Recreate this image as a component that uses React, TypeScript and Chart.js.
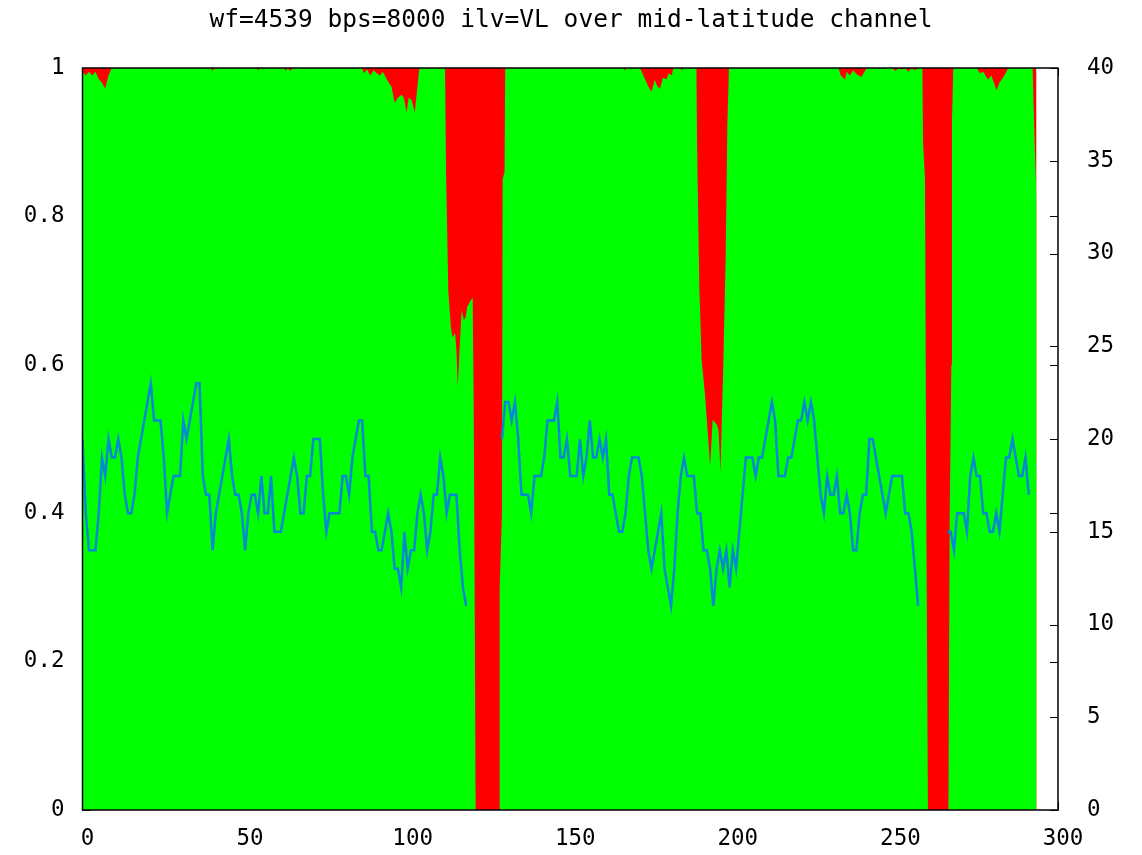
import React, { useEffect, useRef } from "react";
import { Chart, registerables } from "chart.js";

Chart.register(...registerables);

const TITLE = "wf=4539 bps=8000 ilv=VL over mid-latitude channel";
const X_TICKS = [0, 50, 100, 150, 200, 250, 300];
const Y_TICKS = [0, 0.2, 0.4, 0.6, 0.8, 1];
const Y2_TICKS = [0, 5, 10, 15, 20, 25, 30, 35, 40];

// blue series (right axis), index = x, null = no data
const blueValues: (number | null)[] = [
  20, 16, 14, 14, 14, 16, 19, 18, 20, 19,
  19, 20, 19, 17, 16, 16, 17, 19, 20, 21,
  22, 23, 21, 21, 21, 19, 16, 17, 18, 18,
  18, 21, 20, 21, 22, 23, 23, 18, 17, 17,
  14, 16, 17, 18, 19, 20, 18, 17, 17, 16,
  14, 16, 17, 17, 16, 18, 16, 16, 18, 15,
  15, 15, 16, 17, 18, 19, 18, 16, 16, 18,
  18, 20, 20, 20, 17, 15, 16, 16, 16, 16,
  18, 18, 17, 19, 20, 21, 21, 18, 18, 15,
  15, 14, 14, 15, 16, 15, 13, 13, 12, 15,
  13, 14, 14, 16, 17, 16, 14, 15, 17, 17,
  19, 18, 16, 17, 17, 17, 14, 12, 11, null,
  null, null, null, null, null, null, null, null, null, 20,
  22, 22, 21, 22, 20, 17, 17, 17, 16, 18,
  18, 18, 19, 21, 21, 21, 22, 19, 19, 20,
  18, 18, 18, 20, 18, 19, 21, 19, 19, 20,
  19, 20, 17, 17, 16, 15, 15, 16, 18, 19,
  19, 19, 18, 16, 14, 13, 14, 15, 16, 13,
  12, 11, 13, 16, 18, 19, 18, 18, 18, 16,
  16, 14, 14, 13, 11, 13, 14, 13, 14, 12,
  14, 13, 15, 17, 19, 19, 19, 18, 19, 19,
  20, 21, 22, 21, 18, 18, 18, 19, 19, 20,
  21, 21, 22, 21, 22, 21, 19, 17, 16, 18,
  17, 17, 18, 16, 16, 17, 16, 14, 14, 16,
  17, 17, 20, 20, 19, 18, 17, 16, 17, 18,
  18, 18, 18, 16, 16, 15, 13, 11, null, null,
  null, null, null, null, null, null, 15, 15, 14, 16,
  16, 16, 15, 18, 19, 18, 18, 16, 16, 15,
  15, 16, 15, 17, 19, 19, 20, 19, 18, 18,
  19, 17,
];

// green fraction (left axis), breakpoints
const greenX = [
  0, 1, 2, 3, 4, 5, 6, 7, 8, 9,
  39.5, 40, 40.5,
  53.5, 54, 54.5,
  62, 62.5, 63, 64, 64.5,
  86, 86.5, 87.5, 88.5, 89.5, 90.5, 91.5, 92.3,
  93, 93.6, 95, 96, 97, 98.2, 98.8, 99.7, 100.3, 101.2, 102.2, 103, 103.6,
  111.5, 111.8, 112.5, 113.3, 113.8, 114.6, 115.0, 115.4, 115.9, 116.6, 117.3, 117.9, 118.3, 119.4, 120.0, 120.3, 120.6, 120.9,
  128.1, 128.3, 129.0, 129.2, 129.8, 130.0,
  166.5, 166.8, 167.1,
  171.4, 172, 173, 174, 175, 176, 176.8, 177.6, 178.5, 179.6, 180.3, 181.2, 181.7,
  184, 184.3, 184.6,
  188.8, 189.0, 189.7, 190.4, 191.4, 192.4, 193.0, 193.8, 195.0, 195.6, 196.2, 197.1, 197.8, 198.3, 198.8,
  232.5, 233.2, 234.5, 235, 236, 237, 238, 239.5, 240.5, 241.2,
  249, 250, 251, 252, 253, 254, 255, 256, 257,
  258.3, 258.5, 259.1, 259.5, 260.0, 266.3, 266.7, 267.2, 267.4, 267.8,
  275, 276, 277, 278.5, 279.5, 281.1, 282, 283.5, 284.7,
  292.2, 292.5, 293.2, 293.4,
];
const greenY = [
  0.995, 0.99, 0.995, 0.99, 0.995, 0.985, 0.98, 0.972, 0.99, 1,
  1, 0.996, 1,
  1, 0.997, 1,
  1, 0.996, 1, 0.996, 1,
  1, 0.993, 0.998, 0.99, 0.997, 0.993, 0.99, 0.995,
  0.99, 0.984, 0.975, 0.953, 0.96, 0.964, 0.96, 0.94, 0.96, 0.957, 0.94, 0.975, 1,
  1, 0.86, 0.7, 0.65, 0.637, 0.643, 0.62, 0.57, 0.616, 0.674, 0.66, 0.665, 0.678, 0.687, 0.69, 0.55, 0.3, 0,
  0, 0.3, 0.4, 0.85, 0.86, 1,
  1, 0.996, 1,
  1, 0.995, 0.985, 0.975, 0.968, 0.984, 0.975, 0.972, 0.987, 0.985, 0.993, 0.99, 1,
  1, 0.996, 1,
  1, 0.9, 0.705, 0.606, 0.562, 0.503, 0.463, 0.526, 0.52, 0.512, 0.456, 0.606, 0.746, 0.921, 1,
  1, 0.99, 0.984, 0.995, 0.99, 0.997, 0.992, 0.988, 0.995, 1,
  1, 0.996, 1, 0.998, 1, 0.995, 1, 0.997, 1,
  1, 0.9, 0.85, 0.4, 0, 0, 0.4, 0.6, 0.93, 1,
  1, 0.993, 0.995, 0.984, 0.99, 0.97, 0.98, 0.99, 1,
  1, 0.95, 0.85, 0.818,
];

// red background band (left axis): frames observed
const redX = [0, 293.4];
const redY = [1, 1];

const FONT = "'DejaVu Sans Mono', monospace";

const framePlugin = {
  id: "gnuFrame",
  beforeDatasetsDraw(chart: any) {
    const { ctx, chartArea: a, scales } = chart;
    const L = 8;
    ctx.save();
    ctx.strokeStyle = "#000";
    ctx.lineWidth = 1;
    ctx.beginPath();
    for (const v of Y_TICKS) {
      const y = Math.round(scales.y.getPixelForValue(v)) + 0.5;
      ctx.moveTo(a.left, y);
      ctx.lineTo(a.left + L, y);
      ctx.moveTo(a.right, y);
      ctx.lineTo(a.right - L, y);
    }
    for (const v of Y2_TICKS) {
      const y = Math.round(scales.y2.getPixelForValue(v)) + 0.5;
      ctx.moveTo(a.right, y);
      ctx.lineTo(a.right - L, y);
    }
    for (const v of X_TICKS) {
      const x = Math.round(scales.x.getPixelForValue(v)) + 0.5;
      ctx.moveTo(x, a.bottom);
      ctx.lineTo(x, a.bottom - L);
      ctx.moveTo(x, a.top);
      ctx.lineTo(x, a.top + L);
    }
    ctx.stroke();
    ctx.restore();
  },
  afterDatasetsDraw(chart: any) {
    const { ctx, chartArea: a } = chart;
    ctx.save();
    ctx.strokeStyle = "#000";
    ctx.lineWidth = 1.5;
    ctx.strokeRect(a.left, a.top, a.right - a.left, a.bottom - a.top);
    ctx.restore();
  },
};

export default function App() {
  const ref = useRef<HTMLCanvasElement | null>(null);

  useEffect(() => {
    document.body.style.margin = "0";
    const canvas = ref.current;
    if (!canvas) return;

    const blueData = blueValues.map((v, i) => ({ x: i, y: v }));
    const greenData = greenX.map((x, i) => ({ x, y: greenY[i] }));
    const redData = redX.map((x, i) => ({ x, y: redY[i] }));

    const tickFont = { family: FONT, size: 22.5, weight: "normal" as const };

    const chart = new Chart(canvas, {
      type: "line",
      data: {
        datasets: [
          {
            label: "frames",
            data: blueData as any,
            yAxisID: "y2",
            borderColor: "rgb(0,138,212)",
            borderWidth: 2.5,
            pointRadius: 0,
            tension: 0,
            fill: false,
            spanGaps: false,
            order: 0,
          },
          {
            label: "ok",
            data: greenData as any,
            yAxisID: "y",
            borderColor: "rgba(0,0,0,0)",
            borderWidth: 0,
            backgroundColor: "#00ff00",
            pointRadius: 0,
            tension: 0,
            fill: "origin",
            order: 1,
          },
          {
            label: "bad",
            data: redData as any,
            yAxisID: "y",
            borderColor: "rgba(0,0,0,0)",
            borderWidth: 0,
            backgroundColor: "#ff0000",
            pointRadius: 0,
            tension: 0,
            fill: "origin",
            order: 2,
          },
        ],
      },
      options: {
        responsive: false,
        animation: false,
        layout: { padding: 0 },
        plugins: {
          legend: { display: false },
          tooltip: { enabled: false },
          title: {
            display: true,
            text: TITLE,
            color: "#000",
            font: { family: FONT, size: 24.5, weight: "normal" },
            padding: { top: 6, bottom: 32.6 },
          },
        },
        scales: {
          x: {
            type: "linear",
            min: 0,
            max: 300,
            afterBuildTicks: (s: any) => {
              s.ticks = X_TICKS.map((v) => ({ value: v }));
            },
            afterFit: (s: any) => {
              s.height = 45;
            },
            ticks: {
              color: "#000",
              font: tickFont,
              padding: 16,
              labelOffset: 5,
              maxRotation: 0,
              autoSkip: false,
            },
            grid: { display: false, drawTicks: false },
            border: { display: false },
          },
          y: {
            type: "linear",
            position: "left",
            min: 0,
            max: 1,
            afterBuildTicks: (s: any) => {
              s.ticks = Y_TICKS.map((v) => ({ value: v }));
            },
            afterFit: (s: any) => {
              s.width = 82.5;
            },
            ticks: {
              color: "#000",
              font: tickFont,
              padding: 18,
              callback: (v: any) => String(Math.round(Number(v) * 10) / 10),
            },
            grid: { display: false, drawTicks: false },
            border: { display: false },
          },
          y2: {
            type: "linear",
            position: "right",
            min: 0,
            max: 40,
            afterBuildTicks: (s: any) => {
              s.ticks = Y2_TICKS.map((v) => ({ value: v }));
            },
            afterFit: (s: any) => {
              s.width = 84;
            },
            ticks: {
              color: "#000",
              font: tickFont,
              padding: 29,
              callback: (v: any) => String(v),
            },
            grid: { display: false, drawTicks: false },
            border: { display: false },
          },
        },
      },
      plugins: [framePlugin],
    });

    return () => chart.destroy();
  }, []);

  return (
    <div style={{ position: "absolute", left: 0, top: 0, width: 1142, height: 855, background: "#fff" }}>
      <canvas ref={ref} width={1142} height={855} style={{ width: 1142, height: 855, display: "block" }} />
    </div>
  );
}
